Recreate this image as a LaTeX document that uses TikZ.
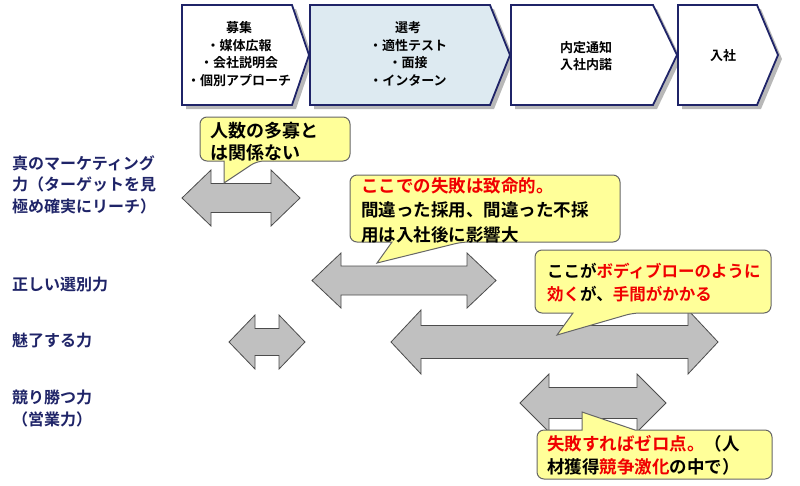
\documentclass[tikz,border=0pt]{standalone}
\usepackage{fontspec}
\setmainfont{Noto Sans CJK JP}[BoldFont={Noto Sans CJK JP Bold}]
\usetikzlibrary{positioning}
\definecolor{navy}{HTML}{1F2468}
\definecolor{stageblue}{HTML}{DDEAF1}
\definecolor{noteyellow}{HTML}{FFFF99}
\definecolor{alertred}{HTML}{F00000}
\definecolor{arrowgray}{HTML}{C0C0C0}
% double-headed block arrow: x1, x2, y, head length, head half height, shaft half height
\newcommand{\twoway}[6]{%
  \draw[twoway] (#1,#3) -- ({#1+#4},{#3-#5}) -- ({#1+#4},{#3-#6}) -- ({#2-#4},{#3-#6})
    -- ({#2-#4},{#3-#5}) -- (#2,#3) -- ({#2-#4},{#3+#5}) -- ({#2-#4},{#3+#6})
    -- ({#1+#4},{#3+#6}) -- ({#1+#4},{#3+#5}) -- cycle;}

\begin{document}
\begin{tikzpicture}[
  x=1pt, y=-1pt,
  stage/.style={draw=navy, line width=1.8pt, line join=miter},
  stageshadow/.style={fill=black!28, draw=none},
  stagetxt/.style={font=\bfseries\fontsize{13}{17.5}\selectfont, align=center, inner sep=0pt},
  ability/.style={font=\bfseries\fontsize{16}{21.5}\selectfont, text=navy, align=left, anchor=north west, inner sep=0pt},
  twoway/.style={fill=arrowgray, draw=black!70, line width=0.8pt},
  note/.style={fill=noteyellow, draw=black!60, line width=1pt},
  notetxt/.style={font=\bfseries\fontsize{17.5}{23.5}\selectfont, align=left, anchor=north west, inner sep=0pt}
]
\useasboundingbox (0,0) rectangle (800,485);

% process stages
\foreach \l/\c/\t/\f in {182/292/309/white, 310/490/510/stageblue, 511/653/677/white, 678/757/778/white} {
  \fill[stageshadow] (\l+4,9) -- (\c+4,9) -- (\t+4,59) -- (\c+4,109) -- (\l+4,109) -- cycle;
  \draw[stage, fill=\f] (\l,5) -- (\c,5) -- (\t,55) -- (\c,105) -- (\l,105) -- cycle;
}
\node[stagetxt] (recruit) at (239,54) {募集\\・媒体広報\\・会社説明会\\・個別アプローチ};
\node[stagetxt] (select) at (408,54) {選考\\・適性テスト\\・面接\\・インターン};
\node[stagetxt] (offer) at (586,56) {内定通知\\入社内諾};
\node[stagetxt] (join) at (723,56) {入社};

% abilities
\node[ability] (marketing) at (12,155) {真のマーケティング\\力（ターゲットを見\\極め確実にリーチ）};
\node[ability] (screening) at (12,277) {正しい選別力};
\node[ability] (appeal) at (12,333) {魅了する力};
\node[ability] (winning) at (12,390) {競り勝つ力\\（営業力）};

% spans
\twoway{182}{300}{198}{29}{28}{14.5}
\twoway{312}{496}{280.5}{29}{27.5}{14.5}
\twoway{229}{305}{342}{26}{27}{13.5}
\twoway{391}{718}{342}{30}{32}{16.5}
\twoway{520}{666}{403}{29}{29}{15.5}

% callouts
\draw[note] (275,117) [rounded corners=7pt] -- (350,117) -- (350,161) -- (257,161)
  [sharp corners] -- (224,183) -- (224,161) -- (212,161) [rounded corners=7pt] -- (200,161) -- (200,117) -- cycle;
\draw[note] (480,175) [rounded corners=7pt] -- (620,175) -- (620,242) -- (462,242)
  [sharp corners] -- (377,263) -- (392,242) -- (370,242) [rounded corners=7pt] -- (350,242) -- (350,175) -- cycle;
\draw[note] (650,250) [rounded corners=7pt] -- (771,250) -- (771,313) -- (633,313)
  [sharp corners] -- (557,335) -- (573,313) -- (560,313) [rounded corners=7pt] -- (535,313) -- (535,250) -- cycle;
\draw[note] (700,479) [rounded corners=7pt] -- (537,479) -- (537,430) -- (570,430)
  [sharp corners] -- (582,430) -- (582,412) -- (635,430) -- (650,430) [rounded corners=7pt] -- (772,430) -- (772,479) -- cycle;

\node[notetxt, font=\bfseries\fontsize{18}{21.5}\selectfont] (headcount) at (210,122) {人数の多寡と\\は関係ない};
\node[notetxt, font=\bfseries\fontsize{17.5}{24.5}\selectfont] (fatal) at (361,177)
  {\textcolor{alertred}{ここでの失敗は致命的。}\\間違った採用、間違った不採\\用は入社後に影響大};
\node[notetxt, font=\bfseries\fontsize{16.5}{23}\selectfont] (bodyblow) at (547,263)
  {ここが\textcolor{alertred}{ボディブローのように}\\\textcolor{alertred}{効く}が、\textcolor{alertred}{手間がかかる}};
\node[notetxt, font=\bfseries\fontsize{17.5}{23}\selectfont] (zero) at (547,435)
  {\textcolor{alertred}{失敗すればゼロ点。}（人\\材獲得\textcolor{alertred}{競争激化}の中で）};
\end{tikzpicture}
\end{document}
